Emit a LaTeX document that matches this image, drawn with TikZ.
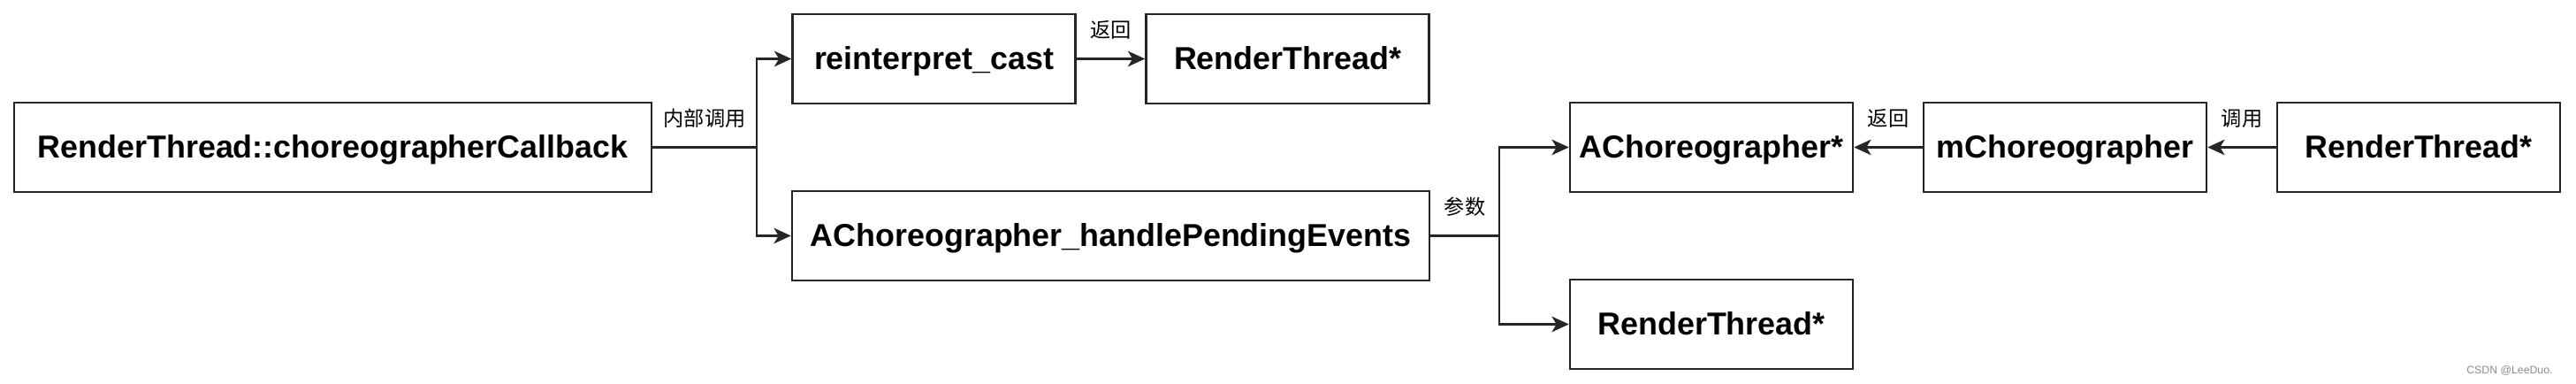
\documentclass[tikz,border=0pt]{standalone}
\usepackage{fontspec}
\setmainfont{Liberation Sans}
\newfontfamily\cjk{Noto Sans CJK SC}
\usepackage{tikz}
\usetikzlibrary{arrows.meta,positioning,calc}

\begin{document}
\begin{tikzpicture}[
  fn/.style={draw=black!85,line width=0.7pt,minimum height=1.01cm,inner sep=0pt,
    text height=1.75ex,text depth=0.45ex,font=\fontsize{10.2}{12}\selectfont\bfseries},
  wide/.style={fn,minimum width=7.21cm},
  narrow/.style={fn,minimum width=3.2cm},
  link/.style={draw=black!85,line width=0.7pt,-{Stealth[length=5.5pt,width=5pt,inset=1.5pt]}},
  tag/.style={font=\cjk\fontsize{6.6}{8}\selectfont,inner sep=1pt}]
 \useasboundingbox (0,0) rectangle (29.14,-4.34);
 % left part
 \node[wide] (cb) at (3.765,-1.665) {RenderThread::choreographerCallback};
 \node[narrow] (cast) at (10.565,-0.665) {reinterpret\_cast};
 \node[narrow] (rtA) at (14.565,-0.665) {RenderThread*};
 \node[wide] (handle) at (12.565,-2.665) {AChoreographer\_handlePendingEvents};
 % right part
 \node[narrow] (ach) at (19.36,-1.665) {AChoreographer*};
 \node[narrow] (mch) at (23.36,-1.665) {mChoreographer};
 \node[narrow] (rtC) at (27.36,-1.665) {RenderThread*};
 \node[narrow] (rtB) at (19.36,-3.665) {RenderThread*};
 \coordinate (forkA) at (8.56,-1.665);
 \coordinate (forkB) at (16.96,-2.665);
 % connectors
 \draw[draw=black!85,line width=0.7pt] (cb.east) -- (forkA) node[tag,midway,above=5pt]{内部调用};
 \draw[link] (forkA) |- (cast);
 \draw[link] (forkA) |- (handle);
 \draw[link] (cast) -- (rtA) node[tag,midway,above=5pt]{返回};
 \draw[draw=black!85,line width=0.7pt] (handle.east) -- (forkB) node[tag,midway,above=5pt]{参数};
 \draw[link] (forkB) |- (ach);
 \draw[link] (forkB) |- (rtB);
 \draw[link] (mch) -- (ach) node[tag,midway,above=5pt]{返回};
 \draw[link] (rtC) -- (mch) node[tag,midway,above=5pt]{调用};
 \node[text=black!45,font=\fontsize{3.5}{4}\selectfont,anchor=east] (mark) at (29.0,-4.19) {CSDN @LeeDuo.};
\end{tikzpicture}
\end{document}
